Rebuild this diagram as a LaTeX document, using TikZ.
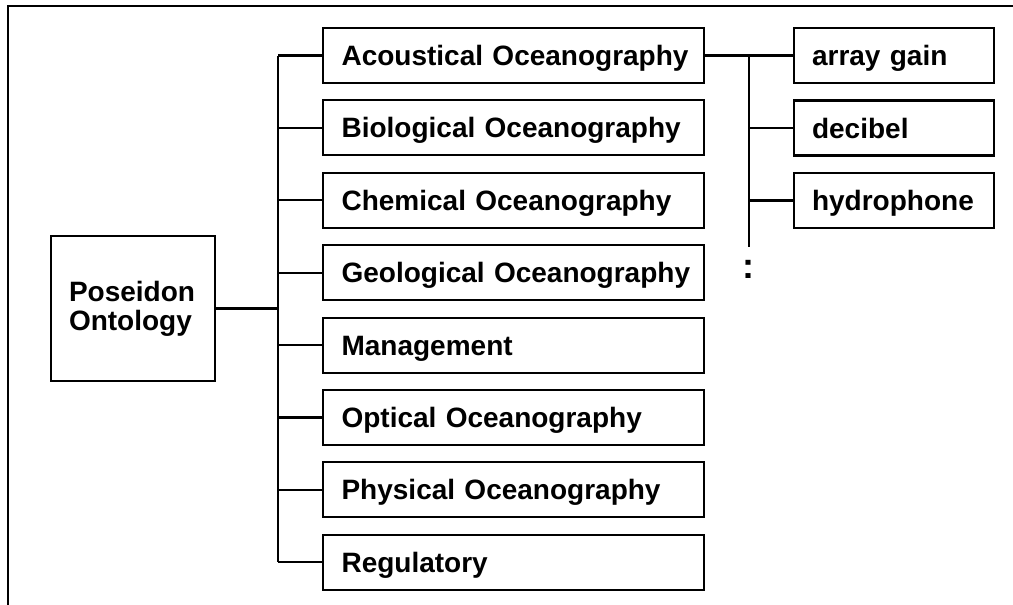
\documentclass[tikz,border=0pt]{standalone}
\usepackage{fontspec}
\setmainfont{Liberation Sans}
\begin{document}
\begin{tikzpicture}[x=1pt,y=-1pt,
  line width=2.1pt,
  lbl/.style={font=\fontsize{28}{29}\selectfont\bfseries},
  mainbox/.style={draw, lbl, anchor=west, minimum width=381pt, minimum height=55pt,
     text width=344pt, align=left, inner xsep=18.5pt, inner ysep=0pt,
     text height=20pt, text depth=0pt},
  subbox/.style={draw, lbl, anchor=west, minimum width=200pt, minimum height=55pt,
     text width=164pt, align=left, inner xsep=18pt, inner ysep=0pt,
     text height=20pt, text depth=0pt},
  rootbox/.style={draw, lbl, minimum width=164pt, minimum height=145pt,
     text width=128pt, align=left, inner xsep=18pt},
  conn/.style={draw, line width=2.1pt}
]
\useasboundingbox (0,0) rectangle (1013,605);
% frame
\draw (8,605) -- (8,6) -- (1013,6);

\node[rootbox] (root) at (133,308.5) {Poseidon\\Ontology};

\foreach \name/\txt [count=\i from 0] in {ac/Acoustical Oceanography, bi/Biological Oceanography, ch/Chemical Oceanography, ge/Geological Oceanography, ma/Management, op/Optical Oceanography, ph/Physical Oceanography, re/Regulatory}{
  \node[mainbox] (\name) at (322,{55.5+72.4*\i}) {\mbox{\txt}};
  \coordinate (b\name) at (278,{55.5+72.4*\i});
  \draw[conn] (b\name) -- (\name.west);
}
\draw[conn] (bac) -- (bre);
\coordinate (rj) at (278,308.5);
\draw[conn] (root.east) -- (rj);

\node[subbox] (ag) at (793,55.5) {\mbox{array gain}};
\node[subbox] (de) at (793,128) {\mbox{decibel}};
\node[subbox] (hy) at (793,200.5) {\mbox{hydrophone}};
\coordinate (sa) at (749,55.5);
\coordinate (sd) at (749,128);
\coordinate (sh) at (749,200.5);
\coordinate (send) at (749,247);
\draw[conn] (ac.east) -- (ag.west);
\draw[conn] (sa) -- (send);
\draw[conn] (sd) -- (de.west);
\draw[conn] (sh) -- (hy.west);
\node[font=\fontsize{36}{36}\selectfont\bfseries, anchor=base, inner sep=0pt] (dots) at (748.5,278.5) {:};
\end{tikzpicture}
\end{document}
